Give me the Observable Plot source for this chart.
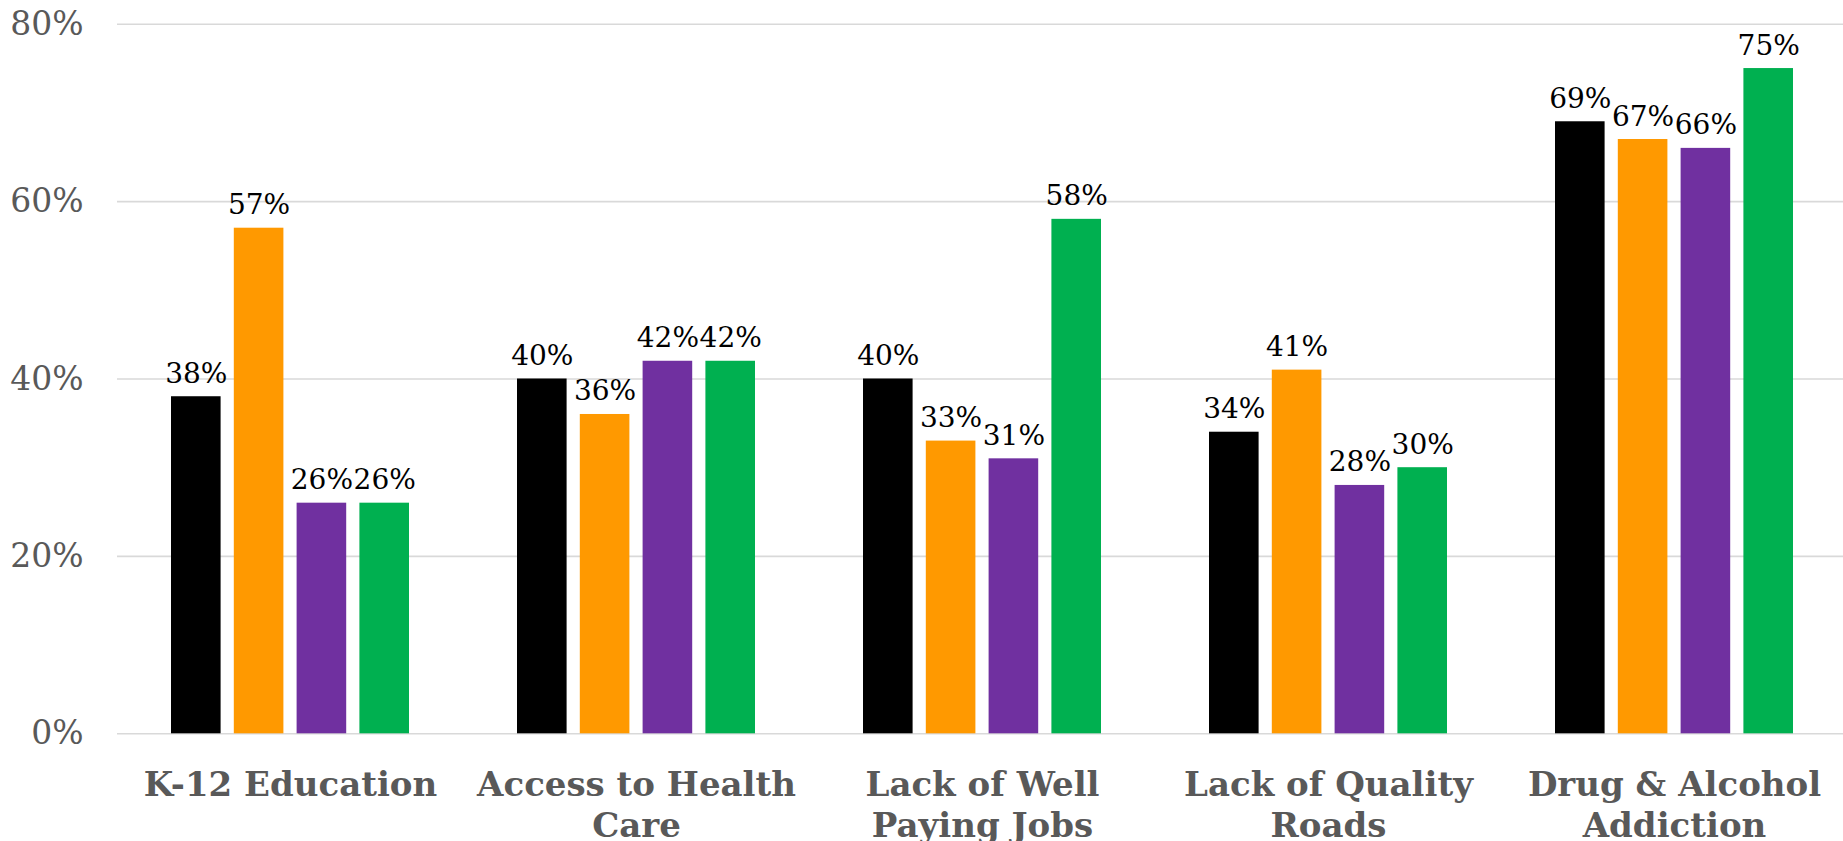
<!DOCTYPE html>
<html>
<head>
<meta charset="utf-8">
<script src="https://cdn.jsdelivr.net/npm/d3@7"></script>
<script src="https://cdn.jsdelivr.net/npm/@observablehq/plot@0.6"></script>
<style>
  html, body { margin: 0; padding: 0; background: #fff; }
  #chart svg { display: block; }
</style>
</head>
<body>
<div id="chart"></div>
<script>
// ---- data ----
const categories = ["K-12 Education", "Access to Health Care", "Lack of Well Paying Jobs", "Lack of Quality Roads", "Drug & Alcohol Addiction"];
const categoryLabels = ["K-12 Education", "Access to Health\nCare", "Lack of Well\nPaying Jobs", "Lack of Quality\nRoads", "Drug & Alcohol\nAddiction"];
const seriesNames = ["Series 1", "Series 2", "Series 3", "Series 4"];
const series1 = [38, 40, 40, 34, 69];
const series2 = [57, 36, 33, 41, 67];
const series3 = [26, 42, 31, 28, 66];
const series4 = [26, 42, 58, 30, 75];
const seriesColors = ["#000000", "#FF9900", "#7030A0", "#00B050"];
const yTicks = [0, 20, 40, 60, 80];

const allSeries = [series1, series2, series3, series4];
const rows = allSeries.map((vals, s) => vals.map((v, i) => ({category: categories[i], series: seriesNames[s], value: v})));

// ---- layout ----
const W = 1843, H = 841;
const mLeft = 117, mTop = 23.7, mBottom = H - 733.3;
const xRange = [117, 1847];
const pInner = 0.313, pOuter = 0.1565;
const step = (xRange[1] - xRange[0]) / (categories.length - pInner + 2 * pOuter);
const bandW = step * (1 - pInner);
const nS = seriesNames.length;
const barPad = 0.215;
const barStep = bandW / (nS - barPad);
const barW = barStep * (1 - barPad);

const marks = [
  Plot.gridY(yTicks, {stroke: "#d9d9d9", strokeOpacity: 1, strokeWidth: 1.6}),
  Plot.axisY(yTicks, {tickSize: 0, tickPadding: 34, fontSize: 33, color: "#595959", tickFormat: d => d + "%", label: null}),
  Plot.axisX({tickSize: 0, tickPadding: 33, fontSize: 34, fontWeight: "bold", color: "#595959", lineHeight: 1.2,
    tickFormat: d => categoryLabels[categories.indexOf(d)], label: null})
];
rows.forEach((data, s) => {
  const left = s * barStep;
  marks.push(Plot.barY(data, {x: "category", y: "value", fill: seriesColors[s],
    insetLeft: left, insetRight: bandW - barW - left}));
  marks.push(Plot.text(data, {x: "category", y: "value", text: d => d.value + "%",
    dx: left + barW / 2 - bandW / 2, dy: -14, lineAnchor: "bottom", fontSize: 28, fill: "#000"}));
});

const chart = Plot.plot({
  width: W, height: H,
  marginLeft: mLeft, marginRight: 0, marginTop: mTop, marginBottom: mBottom,
  style: {fontFamily: "'DejaVu Serif', serif", background: "#fff", overflow: "visible"},
  x: {domain: categories, range: xRange, paddingInner: pInner, paddingOuter: pOuter, axis: null},
  y: {domain: [0, 80], axis: null},
  marks
});
document.getElementById("chart").append(chart);
</script>
</body>
</html>
